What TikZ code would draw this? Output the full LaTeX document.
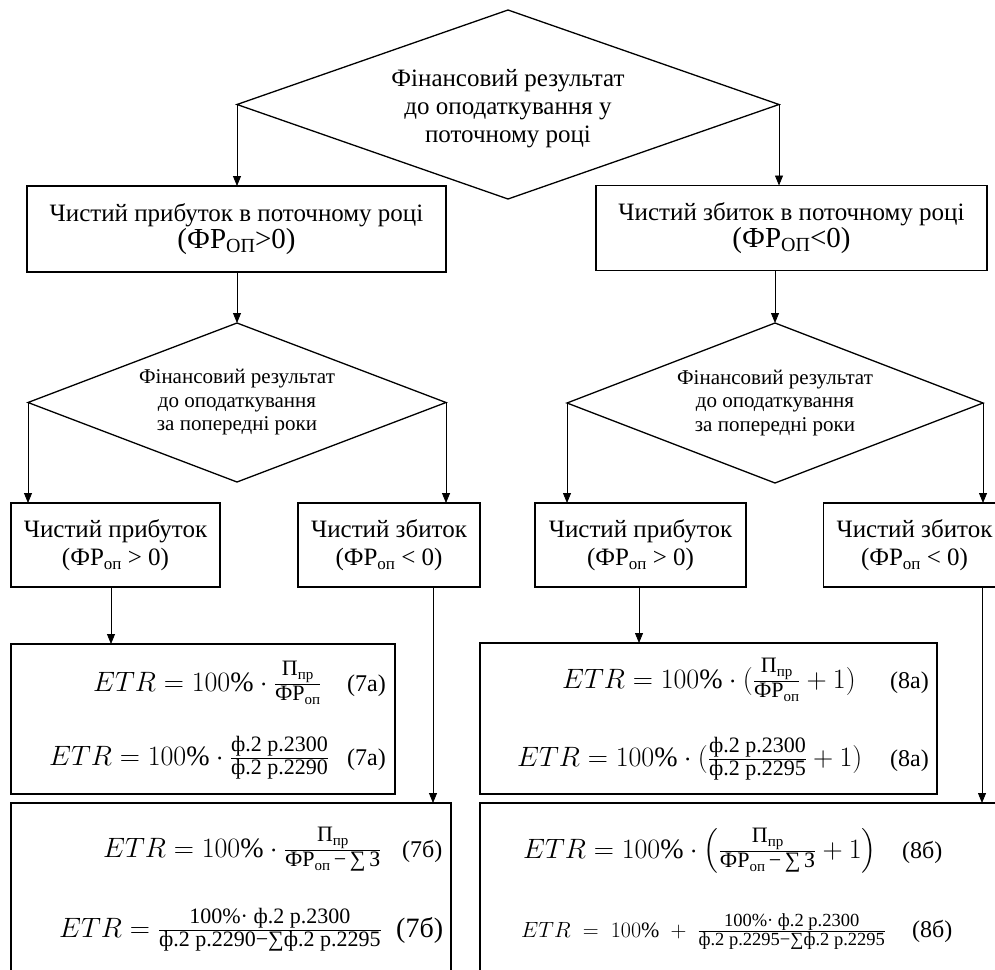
\RequirePackage{fix-cm}
\documentclass[tikz,border=0pt]{standalone}
\usepackage{amsmath}
\usepackage{fontspec}
\setmainfont{Liberation Serif}
\usetikzlibrary{shapes.geometric,arrows.meta}
% fraction text of fixed size
\newcommand{\nt}[1]{\text{\fontsize{22}{22}\selectfont #1}}
\newcommand{\ns}[1]{\text{\fontsize{18.5}{18.5}\selectfont #1}}
\newcommand{\sbt}[2]{\raisebox{-0.35ex}{\fontsize{#1}{#1}\selectfont #2}}
\begin{document}
\begin{tikzpicture}[x=1pt,y=-1pt,
  box/.style={draw,line width=1.3pt,inner sep=0pt,outer sep=0pt,align=center},
  dia/.style={draw,diamond,line width=1.3pt,inner sep=0pt,outer sep=0pt},
  arr/.style={-{Triangle[length=10pt,width=8pt]},line width=0.8pt},
  lbl/.style={align=center,inner sep=0pt},
  frm/.style={anchor=base west,inner sep=0pt},
  big/.style={font=\fontsize{25}{28}\selectfont},
  med/.style={font=\fontsize{21}{23.5}\selectfont}]
\useasboundingbox (0,0) rectangle (995,969);
\clip (0,0) rectangle (995,969);
% top decision
\node[dia,minimum width=542pt,minimum height=189pt] (D0) at (508,104.5) {};
\node[lbl,big] (D0t) at ([yshift=-4.5pt]D0.center) {Фінансовий результат\\до оподаткування у\\поточному році};
% first level boxes
\node[box,minimum width=419pt,minimum height=86pt] (B1) at (236.5,229)
  {{\fontsize{25}{32}\selectfont Чистий прибуток в поточному році}\\{\fontsize{29}{32}\selectfont (ФР\sbt{20}{ОП}>0)}};
\node[box,minimum width=391pt,minimum height=85pt] (B2) at (791.5,228)
  {{\fontsize{25}{32}\selectfont Чистий збиток в поточному році}\\{\fontsize{29}{32}\selectfont (ФР\sbt{20}{ОП}<0)}};
% second level decisions
\node[dia,minimum width=418pt,minimum height=159pt] (D1) at (237,402.5) {};
\node[lbl,med] (D1t) at (D1.center) {Фінансовий результат\\до оподаткування\\за попередні роки};
\node[dia,minimum width=416pt,minimum height=160pt] (D2) at (775,403) {};
\node[lbl,med] (D2t) at (D2.center) {Фінансовий результат\\до оподаткування\\за попередні роки};
% outcome boxes
\node[box,big,minimum width=209pt,minimum height=84pt] (C1) at (115.5,545) {Чистий прибуток\\(ФР\sbt{17}{оп} > 0)};
\node[box,big,minimum width=182pt,minimum height=84pt] (C2) at (389,545) {Чистий збиток\\(ФР\sbt{17}{оп} < 0)};
\node[box,big,minimum width=211pt,minimum height=84pt] (C3) at (640.5,545) {Чистий прибуток\\(ФР\sbt{17}{оп} > 0)};
\node[box,big,minimum width=182pt,minimum height=84pt] (C4) at (914.5,545) {Чистий збиток\\(ФР\sbt{17}{оп} < 0)};
% formula boxes
\node[box,minimum width=384pt,minimum height=150pt] (F7a) at (203,719) {};
\node[box,minimum width=440pt,minimum height=200pt] (F7b) at (231,903) {};
\node[box,minimum width=457pt,minimum height=151pt] (F8a) at (708.5,718.5) {};
\node[box,minimum width=530pt,minimum height=200pt] (F8b) at (745,903) {};
% formulas
\begin{scope}[font=\fontsize{28}{32}\selectfont]
\node[frm] (e7a1) at (93,691) {$ETR = 100\%\cdot\frac{\nt{П\sbt{15}{пр}}}{\nt{ФР\sbt{15}{оп}}}$};
\node[frm] (e7a2) at (49,765) {$ETR = 100\%\cdot\frac{\nt{ф.2 р.2300}}{\nt{ф.2 р.2290}}$};
\node[frm] (e7b1) at (103,857) {$ETR = 100\%\cdot\frac{\nt{П\sbt{15}{пр}}}{\nt{ФР\sbt{15}{оп}\,−\,∑\,З}}$};
\node[frm] (e7b2) at (59,937) {$ETR = \frac{\nt{100\%· ф.2 р.2300}}{\nt{ф.2 р.2290−∑ф.2 р.2295}}$};
\node[frm] (e8a1) at (562,688) {$ETR = 100\%\cdot(\frac{\nt{П\sbt{15}{пр}}}{\nt{ФР\sbt{15}{оп}}}+1)$};
\node[frm] (e8a2) at (517,766) {$ETR = 100\%\cdot(\frac{\nt{ф.2 р.2300}}{\nt{ф.2 р.2295}}+1)$};
\node[frm] (e8b1) at (523,858) {$ETR = 100\%\cdot\left(\frac{\nt{П\sbt{15}{пр}}}{\nt{ФР\sbt{15}{оп}\,−\,∑\,З}}+1\right)$};
\end{scope}
\node[frm,font=\fontsize{22}{26}\selectfont] (e8b2) at (521,937) {$ETR \;=\; 100\% \;+\; \frac{\ns{100\%· ф.2 р.2300}}{\ns{ф.2 р.2295−∑ф.2 р.2295}}$};
% equation numbers
\begin{scope}[font=\fontsize{24}{28}\selectfont]
\node[frm] (n7a1) at (347,691) {(7а)};
\node[frm] (n7a2) at (347,765) {(7а)};
\node[frm] (n7b1) at (402,857) {(7б)};
\node[frm] (n8a1) at (890,688) {(8а)};
\node[frm] (n8a2) at (890,766) {(8а)};
\node[frm] (n8b1) at (902,858) {(8б)};
\node[frm] (n8b2) at (912,937) {(8б)};
\end{scope}
\node[frm,font=\fontsize{28}{32}\selectfont] (n7b2) at (396,937) {(7б)};
% connectors
\draw[arr] (D0.west) -- (D0.west |- B1.north);
\draw[arr] (D0.east) -- (D0.east |- B2.north);
\draw[arr] (D1.north |- B1.south) -- (D1.north);
\draw[arr] (D2.north |- B2.south) -- (D2.north);
\draw[arr] (D1.west) -- (D1.west |- C1.north);
\draw[arr] (D1.east) -- (D1.east |- C2.north);
\draw[arr] (D2.west) -- (D2.west |- C3.north);
\draw[arr] (D2.east) -- (D2.east |- C4.north);
\draw[arr] ([xshift=-4.5pt]C1.south) -- ([xshift=-4.5pt]C1.south |- F7a.north);
\draw[arr] ([xshift=44pt]C2.south) -- ([xshift=44pt]C2.south |- F7b.north);
\draw[arr] ([xshift=-1.5pt]C3.south) -- ([xshift=-1.5pt]C3.south |- F8a.north);
\draw[arr] ([xshift=67.5pt]C4.south) -- ([xshift=67.5pt]C4.south |- F8b.north);
\end{tikzpicture}
\end{document}
